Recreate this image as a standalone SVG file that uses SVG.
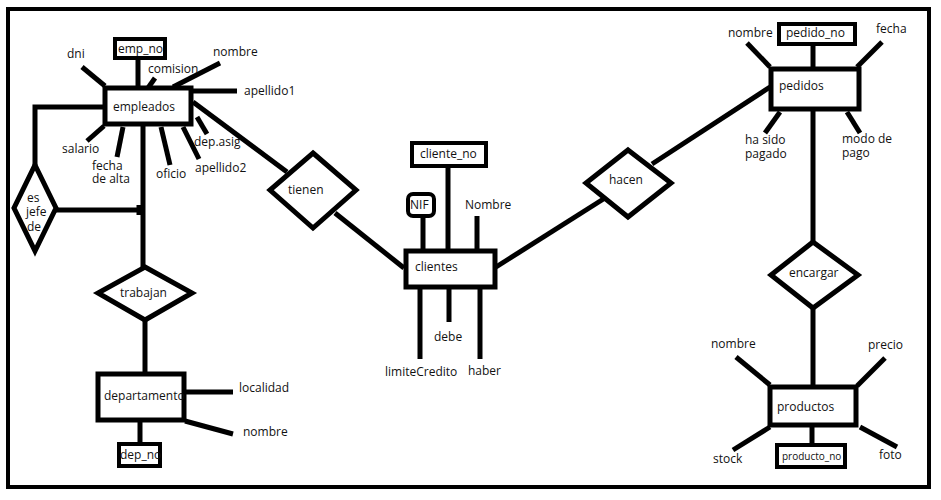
<svg xmlns="http://www.w3.org/2000/svg" width="941" height="500" viewBox="0 0 941 500">
<style>
  .ln { stroke: #000; stroke-width: 5; fill: none; stroke-linecap: butt; }
  .box { stroke: #000; stroke-width: 5; fill: #fff; }
  .key { stroke: #000; stroke-width: 4; fill: #fff; }
  .dia { stroke: #000; stroke-width: 5; fill: #fff; stroke-linejoin: miter; }
  text { font-family: "Open Sans", "Noto Sans", "DejaVu Sans", sans-serif; font-size: 12px; fill: #111; }
  .small { font-size: 10px; }
</style>
<rect x="0" y="0" width="941" height="500" fill="#fff"/>
<rect x="8" y="9" width="921" height="478" fill="none" stroke="#000" stroke-width="4"/>

<g id="connectors">
  <line class="ln" x1="138" y1="60" x2="138" y2="88"/>
  <line class="ln" x1="82" y1="67" x2="105" y2="86"/>
  <line class="ln" x1="155" y1="78" x2="148" y2="88"/>
  <line class="ln" x1="220" y1="63" x2="173" y2="87"/>
  <line class="ln" x1="193" y1="91" x2="237" y2="91"/>
  <line class="ln" x1="197" y1="117" x2="207" y2="134"/>
  <line class="ln" x1="183" y1="127" x2="199" y2="159"/>
  <line class="ln" x1="161" y1="127" x2="170" y2="165"/>
  <line class="ln" x1="123" y1="127" x2="117" y2="157"/>
  <line class="ln" x1="104" y1="126" x2="87" y2="141"/>
  <line class="ln" x1="193" y1="102" x2="287" y2="172"/>
  <polyline class="ln" points="105,107 35,107 35,165"/>
  <polyline class="ln" points="56,210 139,210"/>
  <line class="ln" x1="139" y1="205" x2="139" y2="215"/>
  <line class="ln" x1="143" y1="126" x2="143" y2="267"/>
  <line class="ln" x1="145" y1="320" x2="145" y2="374"/>
  <line class="ln" x1="185" y1="392" x2="233" y2="392"/>
  <line class="ln" x1="185" y1="421" x2="233" y2="434"/>
  <line class="ln" x1="140" y1="421" x2="140" y2="444"/>
  <line class="ln" x1="335" y1="213" x2="404" y2="268"/>
  <line class="ln" x1="423" y1="216" x2="423" y2="251"/>
  <line class="ln" x1="448" y1="168" x2="448" y2="251"/>
  <line class="ln" x1="477" y1="216" x2="477" y2="251"/>
  <line class="ln" x1="420" y1="287" x2="420" y2="359"/>
  <line class="ln" x1="449" y1="287" x2="449" y2="322"/>
  <line class="ln" x1="480" y1="287" x2="480" y2="359"/>
  <line class="ln" x1="496" y1="267" x2="605" y2="198"/>
  <line class="ln" x1="652" y1="164" x2="770" y2="87"/>
  <line class="ln" x1="813" y1="46" x2="813" y2="69"/>
  <line class="ln" x1="747" y1="43" x2="770" y2="67"/>
  <line class="ln" x1="882" y1="42" x2="857" y2="67"/>
  <line class="ln" x1="780" y1="112" x2="765" y2="133"/>
  <line class="ln" x1="847" y1="112" x2="860" y2="133"/>
  <line class="ln" x1="813" y1="107" x2="813" y2="242"/>
  <line class="ln" x1="813" y1="308" x2="813" y2="387"/>
  <line class="ln" x1="736" y1="357" x2="770" y2="385"/>
  <line class="ln" x1="885" y1="358" x2="857" y2="386"/>
  <line class="ln" x1="733" y1="450" x2="770" y2="427"/>
  <line class="ln" x1="860" y1="427" x2="897" y2="447"/>
  <line class="ln" x1="812" y1="425" x2="812" y2="445"/>
</g>

<g id="empleados">
  <rect class="box" x="105" y="88" width="86" height="36"/>
  <text x="113" y="111">empleados</text>
  <text x="67" y="58">dni</text>
  <text x="148" y="73">comision</text>
  <text x="213" y="56">nombre</text>
  <text x="244" y="95">apellido1</text>
  <text x="194" y="146">dep.asig</text>
  <text x="195" y="172">apellido2</text>
  <text x="156" y="178">oficio</text>
  <text x="92" y="170">fecha</text>
  <text x="92" y="183">de alta</text>
  <text x="62" y="153">salario</text>
</g>
<g id="emp_no">
  <rect class="key" x="115" y="39" width="50" height="19"/>
  <text x="118" y="53">emp_no</text>
</g>
<g id="es_jefe_de">
  <polygon class="dia" points="35,165 56,208 35,251 14,208"/>
  <text x="27" y="202">es</text>
  <text x="26" y="216">jefe</text>
  <text x="27" y="231">de</text>
</g>
<g id="trabajan">
  <polygon class="dia" points="145,267 192,293 145,320 98,293"/>
  <text x="120" y="297">trabajan</text>
</g>
<g id="departamento">
  <rect class="box" x="98" y="374" width="86" height="46"/>
  <text x="104" y="400">departamento</text>
  <text x="239" y="392">localidad</text>
  <text x="243" y="436">nombre</text>
</g>
<g id="dep_no">
  <rect class="key" x="119" y="444" width="41" height="22"/>
  <text x="120" y="459">dep_no</text>
</g>
<g id="tienen">
  <polygon class="dia" points="313,153 356,190 313,228 270,190"/>
  <text x="288" y="194">tienen</text>
</g>
<g id="clientes">
  <rect class="box" x="406" y="251" width="89" height="36"/>
  <text x="415" y="271">clientes</text>
  <text x="465" y="209">Nombre</text>
  <text x="434" y="341">debe</text>
  <text x="385" y="376">limiteCredito</text>
  <text x="468" y="375">haber</text>
</g>
<g id="cliente_no">
  <rect class="key" x="412" y="143" width="74" height="23"/>
  <text x="420" y="158">cliente_no</text>
</g>
<g id="NIF">
  <rect class="key" x="408" y="194" width="26" height="22" rx="5"/>
  <text x="410" y="209">NIF</text>
</g>
<g id="hacen">
  <polygon class="dia" points="628,150 671,183 628,217 586,183"/>
  <text x="609" y="184">hacen</text>
</g>
<g id="pedidos">
  <rect class="box" x="771" y="69" width="88" height="40"/>
  <text x="779" y="90">pedidos</text>
  <text x="728" y="37">nombre</text>
  <text x="876" y="33">fecha</text>
  <text x="745" y="144">ha sido</text>
  <text x="745" y="158">pagado</text>
  <text x="842" y="143">modo de</text>
  <text x="842" y="157">pago</text>
</g>
<g id="pedido_no">
  <rect class="key" x="779" y="24" width="76" height="20"/>
  <text x="786" y="37">pedido_no</text>
</g>
<g id="encargar">
  <polygon class="dia" points="813,242 858,275 813,308 771,275"/>
  <text x="789" y="277">encargar</text>
</g>
<g id="productos">
  <rect class="box" x="770" y="387" width="86" height="38"/>
  <text x="777" y="411">productos</text>
  <text x="711" y="348">nombre</text>
  <text x="868" y="349">precio</text>
  <text x="713" y="463">stock</text>
  <text x="879" y="459">foto</text>
</g>
<g id="producto_no">
  <rect class="key" x="777" y="445" width="68" height="22"/>
  <text class="small" x="782" y="460">producto_no</text>
</g>
</svg>
